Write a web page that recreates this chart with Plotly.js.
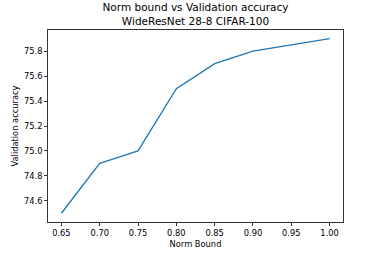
<!DOCTYPE html>
<html><head><meta charset="utf-8">
<script src="https://cdn.plot.ly/plotly-3.0.1.min.js"></script>
<style>html,body{margin:0;padding:0;background:#fff;}#chart{width:382px;height:254px;}</style>
</head><body><div id="chart"></div>
<script>
const normBound = [0.65, 0.70, 0.75, 0.80, 0.85, 0.90, 1.00];
const valAccuracy = [74.5, 74.9, 75.0, 75.5, 75.7, 75.8, 75.9];
const xTicks = [0.65, 0.70, 0.75, 0.80, 0.85, 0.90, 0.95, 1.00];
const yTicks = [74.6, 74.8, 75.0, 75.2, 75.4, 75.6, 75.8];

const font = {family: 'DejaVu Sans', size: 8.3, color: '#000'};
Plotly.newPlot('chart', [{
  x: normBound, y: valAccuracy, type: 'scatter', mode: 'lines',
  line: {color: '#1f77b4', width: 1.3}
}], {
  width: 382, height: 254,
  margin: {l: 48, r: 39, t: 30, b: 32},
  paper_bgcolor: '#fff', plot_bgcolor: '#fff',
  font: font,
  showlegend: false,
  title: {text: 'Norm bound vs Validation accuracy<br>WideResNet 28-8 CIFAR-100',
    font: {family: 'DejaVu Sans', size: 10.5, color: '#000'},
    x: 0.5, xanchor: 'center', xref: 'paper', yref: 'container', y: 0.955, yanchor: 'top'},
  xaxis: {range: [0.6325, 1.0175], tickvals: xTicks, ticktext: xTicks.map(v => v.toFixed(2)),
    showgrid: false, zeroline: false, showline: true, linecolor: '#000', linewidth: 0.8, mirror: true,
    ticks: 'outside', ticklen: 3, tickwidth: 0.8, tickcolor: '#000',
    tickfont: font,
    title: {text: 'Norm Bound', font: font, standoff: 4}},
  yaxis: {range: [74.43, 75.97], tickvals: yTicks, ticktext: yTicks.map(v => v.toFixed(1)),
    showgrid: false, zeroline: false, showline: true, linecolor: '#000', linewidth: 0.8, mirror: true,
    ticks: 'outside', ticklen: 3, tickwidth: 0.8, tickcolor: '#000',
    tickfont: font,
    title: {text: 'Validation accuracy', font: font, standoff: 4}}
}, {displayModeBar: false, staticPlot: true});
</script></body></html>
